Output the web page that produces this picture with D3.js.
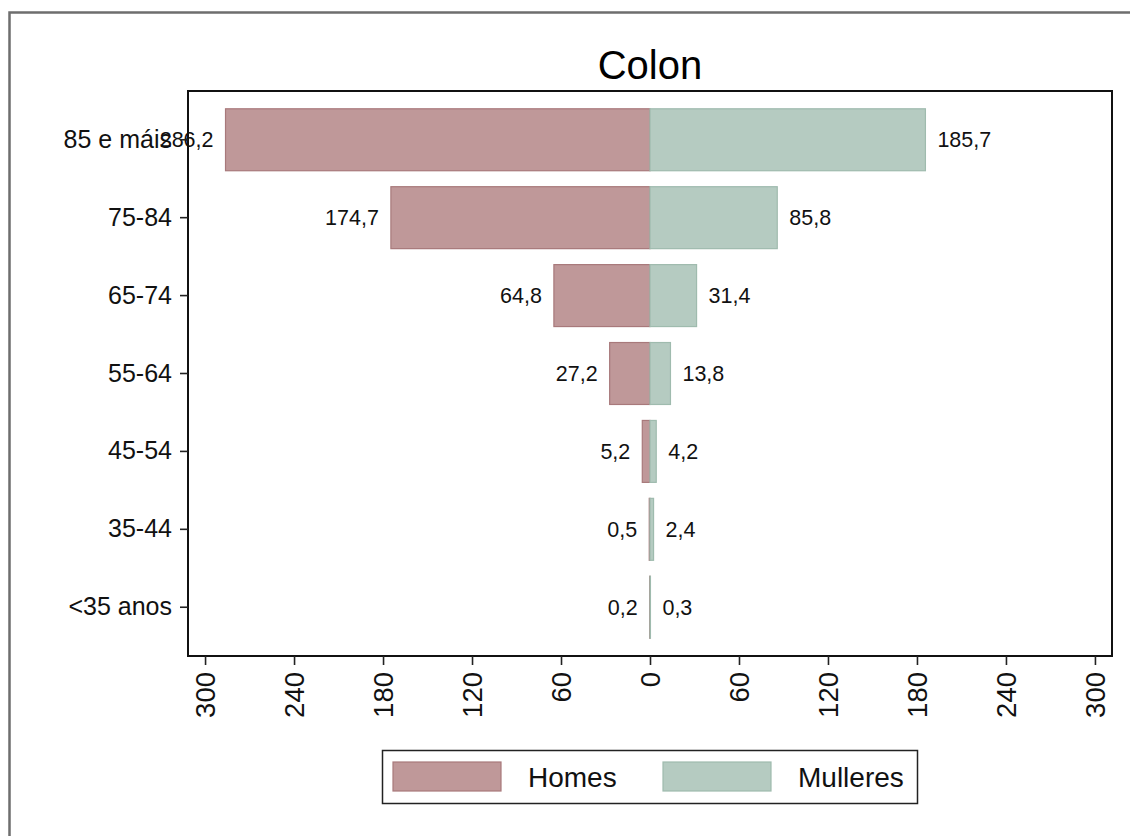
<!DOCTYPE html>
<html><head><meta charset="utf-8">
<script src="https://cdn.jsdelivr.net/npm/d3@7/dist/d3.min.js"></script>
<style>body{margin:0;background:#fff}svg{display:block;font-family:"Liberation Sans",Arial,sans-serif}</style>
</head><body><svg id="c" width="1130" height="836"></svg>
<script>
const categories = ["85 e máis","75-84","65-74","55-64","45-54","35-44","<35 anos"];
const homes = [286.2,174.7,64.8,27.2,5.2,0.5,0.2];
const mulleres = [185.7,85.8,31.4,13.8,4.2,2.4,0.3];
const homesLabels = ["286,2","174,7","64,8","27,2","5,2","0,5","0,2"];
const mulleresLabels = ["185,7","85,8","31,4","13,8","4,2","2,4","0,3"];
const tickValues = [-300,-240,-180,-120,-60,0,60,120,180,240,300];
const seriesNames = ["Homes","Mulleres"];
const title = "Colon";

const svg = d3.select("#c");
const W=1130,H=836;
svg.append("rect").attr("x",0).attr("y",0).attr("width",W).attr("height",H).attr("fill","#fff");
svg.append("rect").attr("x",9.5).attr("y",12.5).attr("width",1140).attr("height",900).attr("fill","none").attr("stroke","#6e6e6e").attr("stroke-width",2.5);

const pl=188, pr=1112, pt=91, pb=656;
const x = d3.scaleLinear().domain([-311.5,311.5]).range([pl,pr]);
const y = d3.scaleBand().domain(categories).range([pt+10,pb-10]).paddingInner(0.205).paddingOuter(0.1);

const menFill="#bf9899", menStroke="#a8797b", womFill="#b5cbc1", womStroke="#9fbbae";

const g = svg.append("g");
g.selectAll("rect.m").data(categories).join("rect")
 .attr("x",(d,i)=>x(-homes[i])).attr("y",d=>y(d)).attr("width",(d,i)=>x(0)-x(-homes[i])).attr("height",y.bandwidth())
 .attr("fill",menFill).attr("stroke",menStroke).attr("stroke-width",1.2);
g.selectAll("rect.w").data(categories).join("rect")
 .attr("x",x(0)).attr("y",d=>y(d)).attr("width",(d,i)=>x(mulleres[i])-x(0)).attr("height",y.bandwidth())
 .attr("fill",womFill).attr("stroke",womStroke).attr("stroke-width",1.2);

g.selectAll("text.m").data(categories).join("text")
 .attr("x",(d,i)=>x(-homes[i])-12).attr("y",d=>y(d)+y.bandwidth()/2).attr("dy","0.35em")
 .attr("text-anchor","end").style("font-size","21.5px").attr("fill","#111").text((d,i)=>homesLabels[i]);
g.selectAll("text.w").data(categories).join("text")
 .attr("x",(d,i)=>x(mulleres[i])+12).attr("y",d=>y(d)+y.bandwidth()/2).attr("dy","0.35em")
 .attr("text-anchor","start").style("font-size","21.5px").attr("fill","#111").text((d,i)=>mulleresLabels[i]);

svg.append("rect").attr("x",pl).attr("y",pt).attr("width",pr-pl).attr("height",pb-pt).attr("fill","none").attr("stroke","#111").attr("stroke-width",2);

const ya = svg.append("g").attr("transform",`translate(${pl},0)`).call(d3.axisLeft(y).tickSize(8).tickPadding(8));
ya.select(".domain").remove();
ya.selectAll("line").attr("stroke","#222").attr("stroke-width",1.6);
ya.selectAll("text").style("font-size","25px").attr("fill","#111").style("font-family","Liberation Sans, Arial, sans-serif");

const xa = svg.append("g").attr("transform",`translate(0,${pb})`).call(d3.axisBottom(x).tickValues(tickValues).tickSize(9).tickFormat(d=>Math.abs(d)));
xa.select(".domain").remove();
xa.selectAll("line").attr("stroke","#222").attr("stroke-width",1.6);
xa.selectAll("text").style("font-size","27.5px").attr("fill","#111").style("font-family","Liberation Sans, Arial, sans-serif")
 .attr("transform","rotate(-90)").attr("text-anchor","end").attr("x",-16).attr("y",0).attr("dy","0.35em");

svg.append("text").attr("x",(pl+pr)/2).attr("y",79).attr("text-anchor","middle").style("font-size","40px").attr("fill","#000").text(title);

const lg = svg.append("g");
lg.append("rect").attr("x",382.5).attr("y",750.5).attr("width",535).attr("height",53).attr("fill","#fff").attr("stroke","#222").attr("stroke-width",1.5);
const legX=[393,663];
const legCols=[[menFill,menStroke],[womFill,womStroke]];
seriesNames.forEach((n,i)=>{
  lg.append("rect").attr("x",legX[i]).attr("y",762).attr("width",108).attr("height",29).attr("fill",legCols[i][0]).attr("stroke",legCols[i][1]).attr("stroke-width",1.2);
  lg.append("text").attr("x",legX[i]+135).attr("y",777).attr("dy","0.35em").style("font-size","28px").attr("fill","#111").text(n);
});
</script></body></html>
